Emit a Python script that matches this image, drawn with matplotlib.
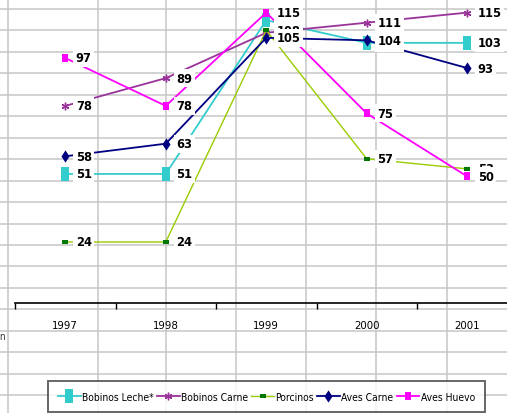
import os, glob
import matplotlib
matplotlib.use("Agg")
import matplotlib.pyplot as plt
from matplotlib.path import Path
from matplotlib import font_manager
from matplotlib.font_manager import FontProperties

# ---------------- data ----------------
years = ["1997", "1998", "1999", "2000", "2001"]
bobinos_leche = [51, 51, 112, 103, 103]
bobinos_carne = [78, 89, 107, 111, 115]
porcinos = [24, 24, 108, 57, 53]
aves_carne = [58, 63, 105, 104, 93]
aves_huevo = [97, 78, 115, 75, 50]
series_names = ["Bobinos Leche*", "Bobinos Carne", "Porcinos", "Aves Carne", "Aves Huevo"]

# ---------------- fonts ----------------
files = set(f.fname for f in font_manager.fontManager.ttflist)
for d in ["/usr/share/fonts", "/usr/local/share/fonts", os.path.expanduser("~/.fonts")]:
    files.update(glob.glob(os.path.join(d, "**", "*.[ot]tf"), recursive=True))
byname = {os.path.basename(f).lower(): f for f in files}

def pick(names):
    for n in names:
        if n.lower() in byname:
            return byname[n.lower()]
    return None

reg_file = pick(["LiberationSansNarrow-Regular.ttf", "DejaVuSansCondensed.ttf", "ArialNarrow.ttf",
                 "RobotoCondensed-Regular.ttf", "OpenSans_Condensed-Regular.ttf"])
bold_file = pick(["LiberationSansNarrow-Bold.ttf", "DejaVuSansCondensed-Bold.ttf", "ArialNarrowBold.ttf",
                  "RobotoCondensed-Bold.ttf", "OpenSans_Condensed-Bold.ttf"])
have_narrow = reg_file is not None
if reg_file:
    fp_reg = lambda s: FontProperties(fname=reg_file, size=s)
else:
    fp_reg = lambda s: FontProperties(family="Liberation Sans", size=s)
if bold_file:
    fp_bold = lambda s: FontProperties(fname=bold_file, size=s)
else:
    fp_bold = lambda s: FontProperties(family="Liberation Sans", weight="bold", size=s)

dejavu_cond = reg_file is not None and "dejavu" in reg_file.lower()
tick_size = 8.2 if dejavu_cond else 9
lab_size = 9.2 if dejavu_cond else 10
leg_size = 7.4 if dejavu_cond else (8.6 if have_narrow else 7.0)

W, H = 507, 414
fig = plt.figure(figsize=(W / 100, H / 100), dpi=100)
fig.patch.set_facecolor("white")

# ---------------- spreadsheet background grid ----------------
bg = fig.add_axes([0, 0, 1, 1], zorder=0)
bg.set_xlim(0, W)
bg.set_ylim(H, 0)
bg.axis("off")
grid_y = [10 + 21.45 * k for k in range(19)]
grid_x = [8, 98, 166, 236, 306, 376, 447]
for gy in grid_y:
    bg.axhline(gy, color="#c6c6c6", lw=1.1)
for gx in grid_x:
    bg.axvline(gx, color="#c6c6c6", lw=1.1)
bg.text(-1, 337, "n", fontproperties=fp_reg(7), va="center", ha="left", color="#333333")

# ---------------- chart ----------------
x0, x1 = 15, 517.5
y_zero, y_top = 303.5, 1.0
ax = fig.add_axes([x0 / W, (H - y_zero) / H, (x1 - x0) / W, (y_zero - y_top) / H], zorder=2)
ax.patch.set_alpha(0)
ax.set_xlim(-0.5, 4.5)
ax.set_ylim(0, 120)
for s in ["left", "right", "top"]:
    ax.spines[s].set_visible(False)
ax.spines["bottom"].set_linewidth(1.2)
ax.spines["bottom"].set_color("black")
ax.set_yticks([])
xs = list(range(len(years)))
ax.set_xticks([i - 0.5 for i in range(len(years) + 1)])
ax.set_xticklabels([])
ax.tick_params(axis="x", which="major", length=4, width=1, direction="out", color="black")
ax.set_xticks(xs, minor=True)
ax.set_xticklabels(years, minor=True)
for t in ax.get_xticklabels(minor=True):
    t.set_fontproperties(fp_reg(tick_size))
ax.tick_params(axis="x", which="minor", length=0, pad=12.5)

def rect(w, h):
    return Path([(-w, -h), (w, -h), (w, h), (-w, h), (-w, -h)], closed=True)

tall_rect = rect(0.33, 0.5)
huevo_rect = rect(0.35, 0.5)
dash_rect = rect(0.5, 0.25)
diamond = Path([(0, 0.5), (0.33, 0), (0, -0.5), (-0.33, 0), (0, 0.5)], closed=True)

styles = [
    dict(color="#33cccc", lw=1.3, marker=tall_rect, ms=9.4, mfc="#33cccc", mec="#33cccc", mew=0),
    dict(color="#993399", lw=1.3, marker=(6, 2, 0), ms=5.5, mfc="#993399", mec="#993399", mew=1.0),
    dict(color="#99cc00", lw=1.0, marker=dash_rect, ms=4.5, mfc="#007700", mec="#007700", mew=0),
    dict(color="#000080", lw=1.3, marker=diamond, ms=8.8, mfc="#000080", mec="#000080", mew=0),
    dict(color="#ff00ff", lw=1.3, marker=huevo_rect, ms=6.2, mfc="#ff00ff", mec="#ff00ff", mew=0),
]
all_series = [bobinos_leche, bobinos_carne, porcinos, aves_carne, aves_huevo]

handles = []
for name, vals, st in zip(series_names, all_series, styles):
    h, = ax.plot(xs, vals, label=name, zorder=3, clip_on=False, **st)
    handles.append(h)

for vals in all_series:
    for i, v in zip(xs, vals):
        ax.annotate(str(v), (i, v), xytext=(7.6, 0), textcoords="offset points",
                    ha="left", va="center", fontproperties=fp_bold(lab_size),
                    color="black", zorder=5,
                    bbox=dict(boxstyle="square,pad=0.2", fc="white", ec="none"))

leg = fig.legend(handles=handles, loc="lower center",
                 bbox_to_anchor=(266.5 / W, 1 / H),
                 ncol=5, frameon=True, fancybox=False, prop=fp_reg(leg_size),
                 handlelength=2.2, handletextpad=0.15, columnspacing=0.3,
                 borderpad=1.0, borderaxespad=0)
leg.get_frame().set_edgecolor("#404040")
leg.get_frame().set_linewidth(1.4)
leg.set_zorder(10)

fig.savefig("out.png", dpi=100, facecolor="white")
